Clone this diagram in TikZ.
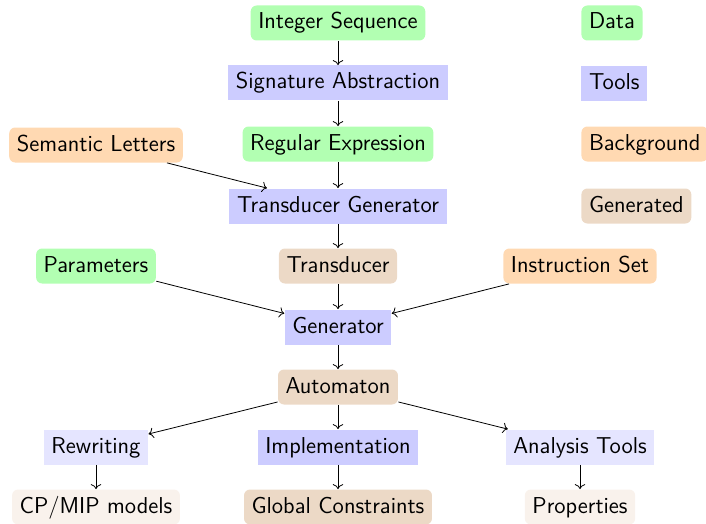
\documentclass[tikz,border=0pt]{standalone}
\usetikzlibrary{arrows.meta}
\begin{document}
\begin{tikzpicture}[x=0.5pt,y=-0.5pt,
  every node/.style={font=\sffamily\fontsize{11.5}{13.8}\selectfont, text=black,
    minimum height=17.5pt, inner xsep=3.8pt, inner ysep=2pt, text height=8.4pt, text depth=2.4pt},
  data/.style={fill=green!30, rounded corners=3pt},
  tool/.style={fill=blue!20},
  lighttool/.style={fill=blue!10},
  background/.style={fill=orange!30, rounded corners=3pt},
  generated/.style={fill=brown!30, rounded corners=3pt},
  lightgen/.style={fill=brown!10, rounded corners=3pt},
  flow/.style={->, black, line width=0.4pt}]
\useasboundingbox (0,0) rectangle (706,524);

% main column
\node[data] (seq) at (338,23) {Integer Sequence};
\node[tool] (sig) at (338,83) {Signature Abstraction};
\node[data] (regex) at (338,144) {Regular Expression};
\node[background] (sem) at (96,145) {Semantic Letters};
\node[tool] (tgen) at (338,206) {Transducer Generator};
\node[data] (par) at (96,266) {Parameters};
\node[generated] (trans) at (338,266) {Transducer};
\node[background] (instr) at (580,266) {Instruction Set};
\node[tool] (gen) at (338,327) {Generator};
\node[generated] (auto) at (338,387) {Automaton};
\node[lighttool] (rew) at (96,447) {Rewriting};
\node[tool] (impl) at (338,447) {Implementation};
\node[lighttool] (ana) at (580,447) {Analysis Tools};
\node[lightgen] (cp) at (96,507) {CP/MIP models};
\node[generated] (glob) at (338,507) {Global Constraints};
\node[lightgen] (prop) at (580,507) {Properties};

% legend
\node[data, anchor=west] (lgdata) at (581,23) {Data};
\node[tool, anchor=west] (lgtool) at (581,84) {Tools};
\node[background, anchor=west] (lgback) at (581,144) {Background};
\node[generated, anchor=west] (lggen) at (581,206) {Generated};

% connectors
\draw[flow] (seq) -- (sig);
\draw[flow] (sig) -- (regex);
\draw[flow] (regex) -- (tgen);
\draw[flow] (sem) -- (tgen);
\draw[flow] (tgen) -- (trans);
\draw[flow] (trans) -- (gen);
\draw[flow] (par) -- (gen);
\draw[flow] (instr) -- (gen);
\draw[flow] (gen) -- (auto);
\draw[flow] (auto) -- (rew);
\draw[flow] (auto) -- (impl);
\draw[flow] (auto) -- (ana);
\draw[flow] (rew) -- (cp);
\draw[flow] (impl) -- (glob);
\draw[flow] (ana) -- (prop);
\end{tikzpicture}
\end{document}
